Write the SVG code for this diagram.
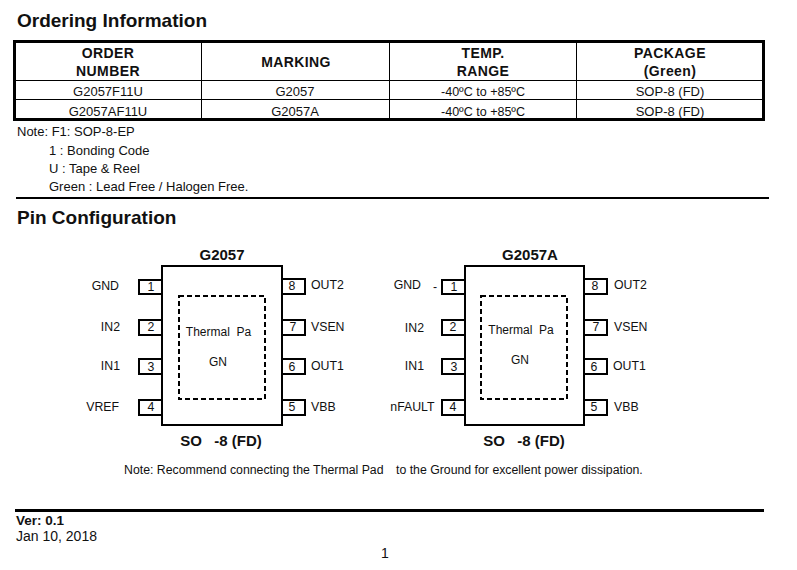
<svg xmlns="http://www.w3.org/2000/svg" width="797" height="570" viewBox="0 0 797 570">
<style>
text{font-family:"Liberation Sans",Arial,sans-serif;fill:#111;white-space:pre}
.h{font-size:19px;font-weight:700}
.th{font-size:14px;font-weight:700;text-anchor:middle;letter-spacing:.4px}
.td{font-size:13px;text-anchor:middle}
.n{font-size:13px}
.p{font-size:12.300px}
.r{text-anchor:end}
.m{text-anchor:middle}
.t{font-size:15px;font-weight:700;text-anchor:middle}
.pad{font-size:12px;text-anchor:middle}
.body{fill:#fff;stroke:#000;stroke-width:2}
.pin{fill:#fff;stroke:#000;stroke-width:2}
.dash{fill:none;stroke:#000;stroke-width:2;stroke-dasharray:5 3}
.thin{stroke:#000;stroke-width:1;fill:none}
.rule{stroke:#000;stroke-width:2;fill:none}
</style>
<rect width="797" height="570" fill="#fff"/>
<text class="h" x="17" y="27">Ordering Information</text>
<g id="ordering-table">
<rect x="14.5" y="41.5" width="749" height="78" fill="#fff" stroke="#000" stroke-width="3"/>
<path class="thin" d="M15 80.500H763M15 99.500H763M201.500 42V119M389.500 42V119M576.500 42V119"/>
<text class="th" x="108" y="58">ORDER</text>
<text class="th" x="108" y="76">NUMBER</text>
<text class="th" x="296" y="67">MARKING</text>
<text class="th" x="483" y="58">TEMP.</text>
<text class="th" x="483" y="76">RANGE</text>
<text class="th" x="670" y="58">PACKAGE</text>
<text class="th" x="670" y="76">(Green)</text>
<text class="td" x="108" y="96">G2057F11U</text>
<text class="td" x="295" y="96">G2057</text>
<text class="td" x="483" y="96" textLength="84" lengthAdjust="spacingAndGlyphs">-40ºC to +85ºC</text>
<text class="td" x="670" y="96">SOP-8 (FD)</text>
<text class="td" x="108" y="116">G2057AF11U</text>
<text class="td" x="295" y="116">G2057A</text>
<text class="td" x="483" y="116" textLength="84" lengthAdjust="spacingAndGlyphs">-40ºC to +85ºC</text>
<text class="td" x="670" y="116">SOP-8 (FD)</text>
</g>
<text class="n" x="17" y="136">Note: F1: SOP-8-EP</text>
<text class="n" x="49" y="155">1 : Bonding Code</text>
<text class="n" x="49" y="173">U : Tape &amp; Reel</text>
<text class="n" x="49" y="191">Green : Lead Free / Halogen Free.</text>
<path class="rule" d="M16 198H769"/>
<text class="h" x="17" y="224">Pin Configuration</text>
<g id="chip-g2057">
<text class="t" x="222" y="260">G2057</text>
<rect class="pin" x="139" y="280" width="23" height="14"/>
<rect class="pin" x="139" y="320" width="23" height="15"/>
<rect class="pin" x="139" y="359" width="23" height="15"/>
<rect class="pin" x="139" y="400" width="23" height="15"/>
<rect class="pin" x="282" y="279" width="23" height="15"/>
<rect class="pin" x="282" y="320" width="23" height="15"/>
<rect class="pin" x="282" y="359" width="23" height="15"/>
<rect class="pin" x="282" y="400" width="23" height="15"/>
<rect class="body" x="162" y="266" width="120" height="159"/>
<rect class="dash" x="179" y="296" width="86" height="103"/>
<text class="pad" x="218.500" y="336">Thermal  Pa</text>
<text class="pad" x="218" y="366">GN</text>
<text class="p m" x="151" y="291">1</text>
<text class="p m" x="151" y="331">2</text>
<text class="p m" x="151" y="371">3</text>
<text class="p m" x="151" y="411">4</text>
<text class="p m" x="292" y="290">8</text>
<text class="p m" x="293" y="331">7</text>
<text class="p m" x="292" y="371">6</text>
<text class="p m" x="292" y="411">5</text>
<text class="p r" x="119" y="290">GND</text>
<text class="p r" x="120" y="331">IN2</text>
<text class="p r" x="120" y="370">IN1</text>
<text class="p r" x="119" y="411">VREF</text>
<text class="p" x="311" y="289">OUT2</text>
<text class="p" x="311" y="331">VSEN</text>
<text class="p" x="311" y="370">OUT1</text>
<text class="p" x="311" y="411">VBB</text>
<text class="t" x="221" y="446">SO   -8 (FD)</text>
</g>
<g id="chip-g2057a">
<text class="t" x="530" y="260">G2057A</text>
<rect class="pin" x="442" y="280" width="23" height="14"/>
<rect class="pin" x="442" y="320" width="23" height="15"/>
<rect class="pin" x="442" y="359" width="23" height="15"/>
<rect class="pin" x="442" y="400" width="23" height="15"/>
<rect class="pin" x="584" y="279" width="23" height="15"/>
<rect class="pin" x="584" y="320" width="23" height="15"/>
<rect class="pin" x="584" y="359" width="23" height="15"/>
<rect class="pin" x="584" y="400" width="23" height="15"/>
<rect class="body" x="465" y="266" width="119" height="159"/>
<rect class="dash" x="481" y="296" width="86" height="103"/>
<text class="pad" x="521" y="334">Thermal  Pa</text>
<text class="pad" x="520" y="364">GN</text>
<text class="p m" x="454" y="291">1</text>
<text class="p m" x="453" y="331">2</text>
<text class="p m" x="454" y="371">3</text>
<text class="p m" x="453" y="411">4</text>
<text class="p m" x="595" y="290">8</text>
<text class="p m" x="596" y="331">7</text>
<text class="p m" x="594" y="371">6</text>
<text class="p m" x="594" y="411">5</text>
<text class="p r" x="421" y="289">GND</text>
<text class="p" x="433" y="291">-</text>
<text class="p r" x="424" y="332">IN2</text>
<text class="p r" x="424" y="370">IN1</text>
<text class="p r" x="434.500" y="411">nFAULT</text>
<text class="p" x="614" y="289">OUT2</text>
<text class="p" x="614" y="331">VSEN</text>
<text class="p" x="613" y="370">OUT1</text>
<text class="p" x="614" y="411">VBB</text>
<text class="t" x="524" y="446">SO   -8 (FD)</text>
</g>
<text x="124" y="474" font-size="12.300">Note: Recommend connecting the Thermal Pad</text>
<text x="396" y="474" font-size="12.300">to the Ground for excellent power dissipation.</text>
<path d="M15 510.500H764" stroke="#000" stroke-width="3" fill="none"/>
<text x="16" y="525" font-size="13.500" font-weight="700">Ver: 0.1</text>
<text x="16" y="541" font-size="14">Jan 10, 2018</text>
<text x="385" y="558" font-size="14" text-anchor="middle">1</text>
</svg>
